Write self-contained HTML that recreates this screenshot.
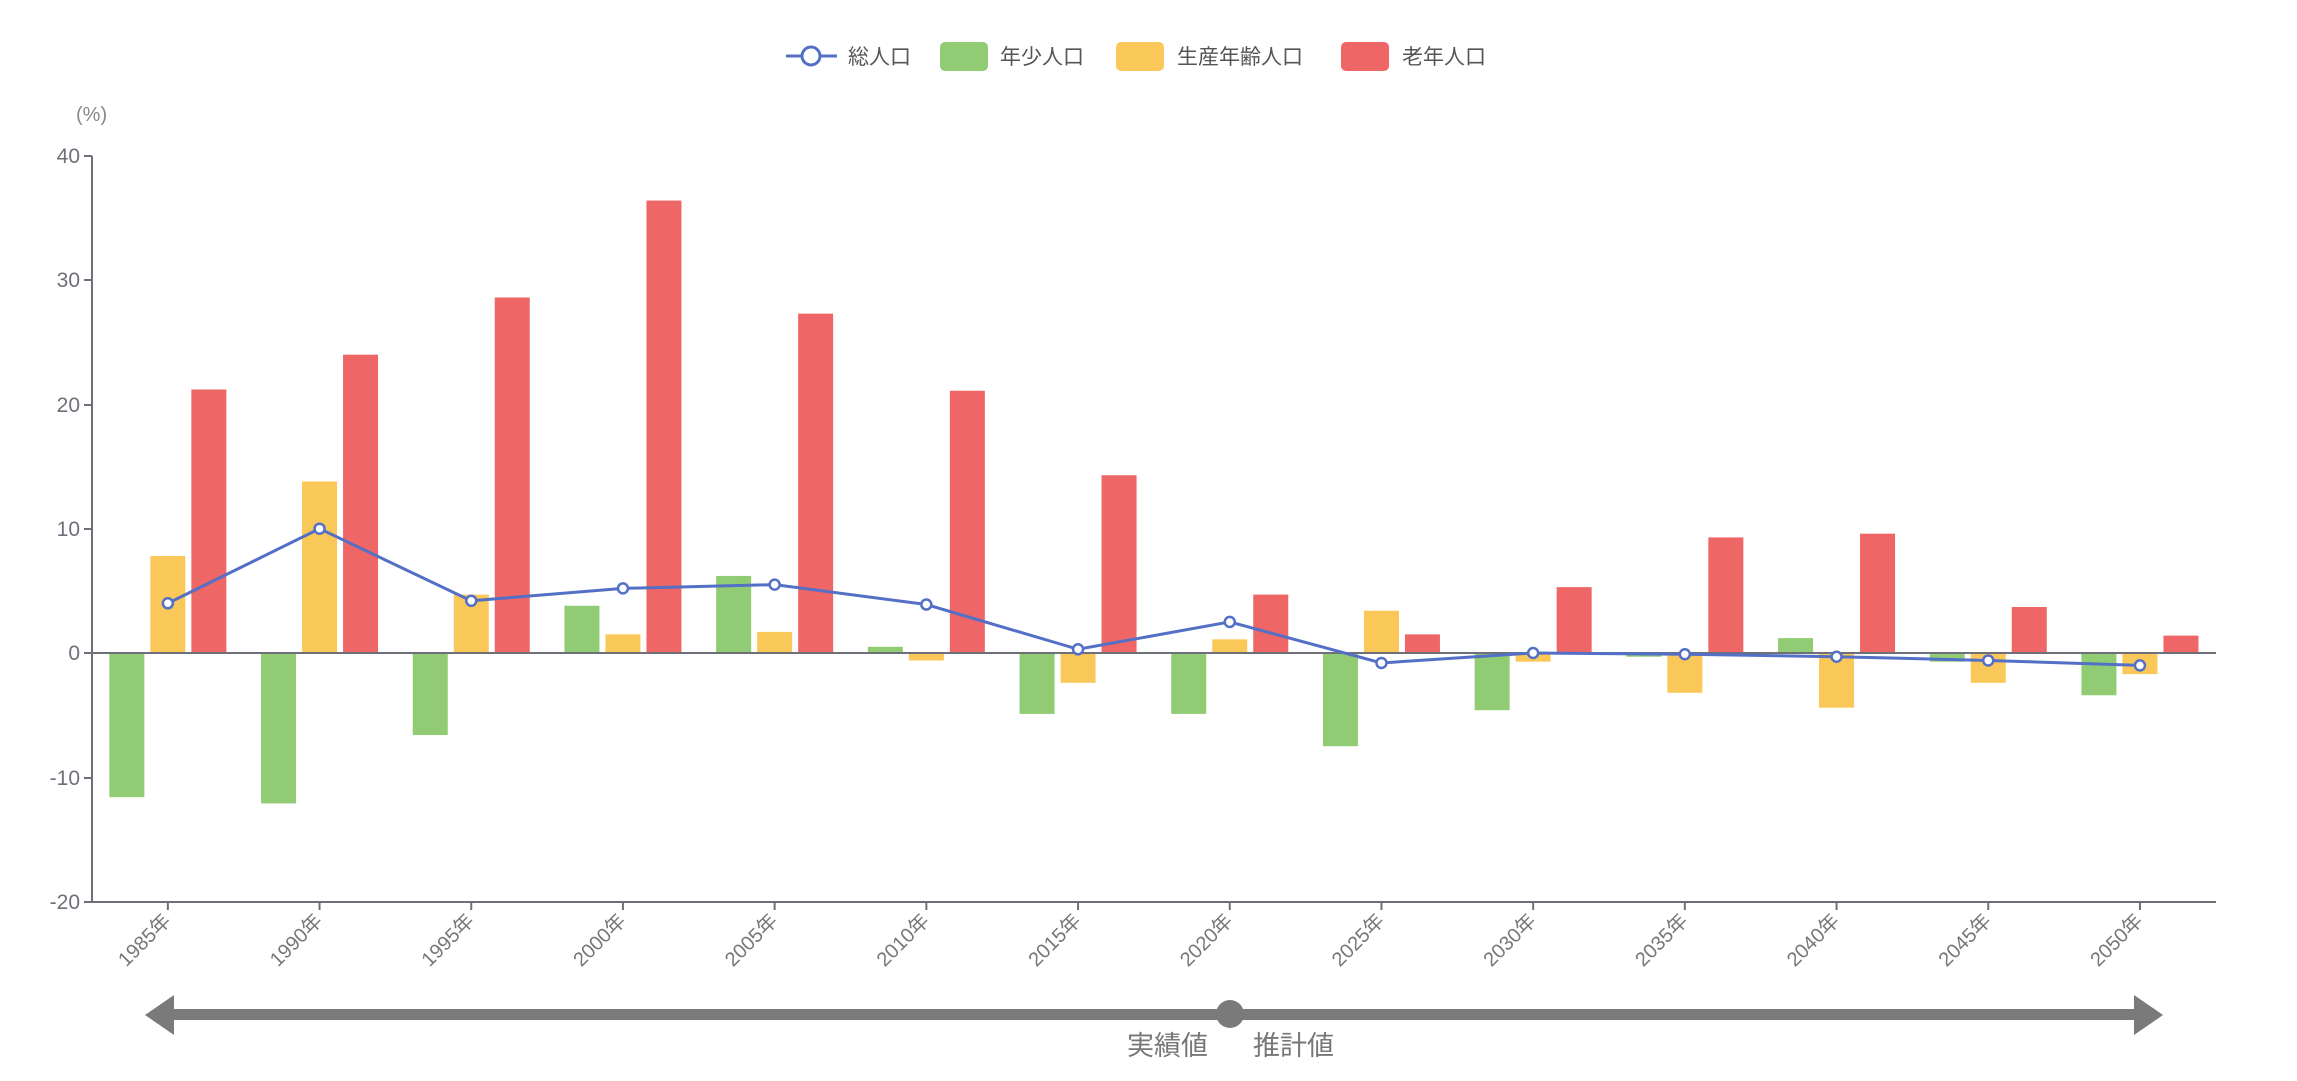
<!DOCTYPE html>
<html><head><meta charset="utf-8"><style>
html,body{margin:0;padding:0;background:#fff;}
svg{display:block;font-family:"Liberation Sans","Noto Sans CJK JP",sans-serif;}
</style></head><body>
<svg width="2297" height="1081" viewBox="0 0 2297 1081" xmlns="http://www.w3.org/2000/svg">
<g id="legend" font-size="21" fill="#555">
  <line x1="786" y1="56" x2="837" y2="56" stroke="#5470c6" stroke-width="3"/>
  <circle cx="811" cy="56" r="9" fill="#fff" stroke="#5470c6" stroke-width="3"/>
  <text x="848" y="64">総人口</text>
  <rect x="940" y="42" width="48" height="29" rx="5" fill="#91cc75"/>
  <text x="1000" y="64">年少人口</text>
  <rect x="1116" y="42" width="48" height="29" rx="5" fill="#fac858"/>
  <text x="1177" y="64">生産年齢人口</text>
  <rect x="1341" y="42" width="48" height="29" rx="5" fill="#ee6666"/>
  <text x="1402" y="64">老年人口</text>
</g>
<text x="76" y="121" font-size="20" fill="#888">(%)</text>
<g id="yaxis" font-size="21" fill="#6e7079" text-anchor="end">
  <text x="80" y="163">40</text>
  <text x="80" y="287">30</text>
  <text x="80" y="412">20</text>
  <text x="80" y="536">10</text>
  <text x="80" y="660">0</text>
  <text x="80" y="785">-10</text>
  <text x="80" y="909">-20</text>
</g>
<g stroke="#6e7079" stroke-width="2">
  <line x1="92" y1="156" x2="92" y2="902"/>
  <line x1="84" y1="156" x2="92" y2="156"/>
  <line x1="84" y1="280" x2="92" y2="280"/>
  <line x1="84" y1="405" x2="92" y2="405"/>
  <line x1="84" y1="529" x2="92" y2="529"/>
  <line x1="84" y1="653" x2="92" y2="653"/>
  <line x1="84" y1="778" x2="92" y2="778"/>
  <line x1="84" y1="902" x2="92" y2="902"/>
  <line x1="92" y1="902" x2="2216" y2="902"/>
</g>
<g id="chart"></g>
<g id="arrow" fill="#7a7a7a">
  <rect x="170" y="1009" width="1966" height="11"/>
  <polygon points="145,1015 174,995 174,1035"/>
  <polygon points="2163,1015 2134,995 2134,1035"/>
  <circle cx="1230" cy="1014" r="14"/>
</g>
<text x="1127" y="1055" font-size="27" fill="#777">実績値</text>
<text x="1253" y="1055" font-size="27" fill="#777">推計値</text>
<script>
var G=[-11.6,-12.1,-6.6,3.8,6.2,0.5,-4.9,-4.9,-7.5,-4.6,-0.3,1.2,-0.7,-3.4];
var Y=[7.8,13.8,4.7,1.5,1.7,-0.6,-2.4,1.1,3.4,-0.7,-3.2,-4.4,-2.4,-1.7];
var R=[21.2,24.0,28.6,36.4,27.3,21.1,14.3,4.7,1.5,5.3,9.3,9.6,3.7,1.4];
var T=[4.0,10.0,4.2,5.2,5.5,3.9,0.3,2.5,-0.8,0.0,-0.1,-0.3,-0.6,-1.0];
var yrs=[1985,1990,1995,2000,2005,2010,2015,2020,2025,2030,2035,2040,2045,2050];
var ns="http://www.w3.org/2000/svg",g=document.getElementById("chart");
function y(v){return 653-v*12.43;}
function el(t,a,txt){var e=document.createElementNS(ns,t);for(var k in a)e.setAttribute(k,a[k]);if(txt)e.textContent=txt;g.appendChild(e);return e;}
var pts=[];
for(var i=0;i<14;i++){
  var c=92+75.85+i*151.7;
  [[G,-41,"#91cc75"],[Y,0,"#fac858"],[R,41,"#ee6666"]].forEach(function(s){
    var v=s[0][i],y0=y(Math.max(v,0)),h=Math.abs(v)*12.43;
    el("rect",{x:c+s[1]-17.5,y:y0,width:35,height:h,fill:s[2]});
  });
  el("line",{x1:c,y1:902,x2:c,y2:910,stroke:"#6e7079","stroke-width":2});
  el("text",{x:c+4,y:922,"font-size":20,fill:"#777","text-anchor":"end",transform:"rotate(-45 "+(c+4)+" 922)"},yrs[i]+"年");
  pts.push([c,y(T[i])]);
}
el("line",{x1:92,y1:653,x2:2216,y2:653,stroke:"#6e7079","stroke-width":2});
el("polyline",{points:pts.map(function(p){return p.join(",")}).join(" "),fill:"none",stroke:"#5470c6","stroke-width":3});
pts.forEach(function(p){el("circle",{cx:p[0],cy:p[1],r:5,fill:"#fff",stroke:"#5470c6","stroke-width":2.5});});
</script>
</svg>
</body></html>
